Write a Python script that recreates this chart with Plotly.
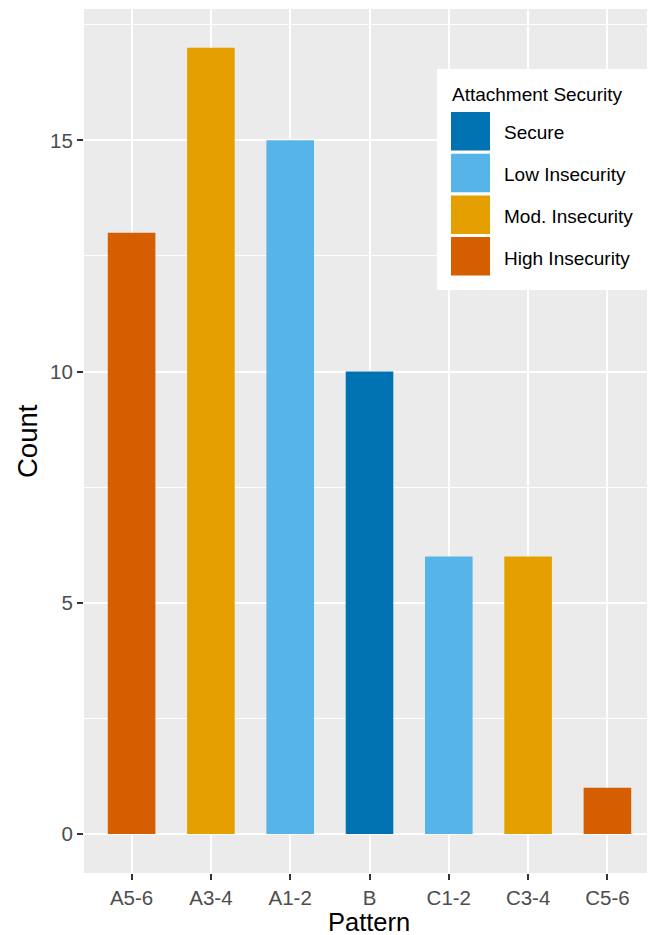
import plotly.graph_objects as go

# ---- data ----
patterns = ["A5-6", "A3-4", "A1-2", "B", "C1-2", "C3-4", "C5-6"]
counts = [13, 17, 15, 10, 6, 6, 1]
security = ["High Insecurity", "Mod. Insecurity", "Low Insecurity", "Secure",
            "Low Insecurity", "Mod. Insecurity", "High Insecurity"]
levels = ["Secure", "Low Insecurity", "Mod. Insecurity", "High Insecurity"]
level_colors = ["#0072B2", "#56B4E9", "#E69F00", "#D55E00"]
y_ticks = [0, 5, 10, 15]
y_minor = [2.5, 7.5, 12.5, 17.5]
legend_title = "Attachment Security"

FONT = "Liberation Sans, Arial, Helvetica, sans-serif"
OFF = 8  # default page body margin
W, H = 655 - OFF, 935 - OFF
ML, MR, MT, MB = 76, 0, 1, 62
PW, PH = W - ML - MR, H - MT - MB

def px(x):  # page pixel -> paper x
    return (x - OFF - ML) / PW

def py(y):  # page pixel -> paper y
    return (H - MB - (y - OFF)) / PH

fig = go.Figure()
for lev, col in zip(levels, level_colors):
    xs = [p for p, s in zip(patterns, security) if s == lev]
    ys = [c for c, s in zip(counts, security) if s == lev]
    fig.add_trace(go.Bar(x=xs, y=ys, name=lev, marker=dict(color=col, line=dict(width=0)),
                         width=0.6, showlegend=False))

# custom ggplot-style legend
shapes = [dict(type="rect", xref="paper", yref="paper", x0=px(437), x1=px(647),
               y0=py(290), y1=py(69), fillcolor="white", line=dict(width=0), layer="above")]
annotations = [dict(text=legend_title, xref="paper", yref="paper", x=px(450), y=py(94),
                    xanchor="left", yanchor="middle", showarrow=False,
                    font=dict(family=FONT, size=19, color="black"))]
key_top = 112
pitch = 41.7
for i, (lev, col) in enumerate(zip(levels, level_colors)):
    t = key_top + i * pitch
    shapes.append(dict(type="rect", xref="paper", yref="paper", x0=px(451), x1=px(490),
                       y0=py(t + 38.5), y1=py(t), fillcolor=col, line=dict(width=0), layer="above"))
    annotations.append(dict(text=lev, xref="paper", yref="paper", x=px(502), y=py(t + 21),
                            xanchor="left", yanchor="middle", showarrow=False,
                            font=dict(family=FONT, size=19, color="black")))

# axis titles
annotations.append(dict(text="Pattern", xref="paper", yref="paper", x=px(369), y=py(922),
                        xanchor="center", yanchor="middle", showarrow=False,
                        font=dict(family=FONT, size=25.5, color="black")))
annotations.append(dict(text="Count", xref="paper", yref="paper", x=px(27), y=py(441),
                        xanchor="center", yanchor="middle", showarrow=False, textangle=-90,
                        font=dict(family=FONT, size=27.5, color="black")))

fig.update_layout(
    width=W, height=H,
    margin=dict(l=ML, r=MR, t=MT, b=MB, pad=0),
    paper_bgcolor="white",
    plot_bgcolor="#EBEBEB",
    barmode="overlay",
    font=dict(family=FONT, color="#4D4D4D"),
    shapes=shapes,
    annotations=annotations,
    xaxis=dict(
        type="category", categoryorder="array", categoryarray=patterns,
        range=[-0.6, len(patterns) - 0.4],
        showgrid=True, gridcolor="white", gridwidth=2,
        ticks="outside", ticklen=6, tickwidth=2, tickcolor="#333333",
        tickfont=dict(family=FONT, size=20.5, color="#4D4D4D"),
        showline=False, zeroline=False,
    ),
    yaxis=dict(
        range=[-0.845, 17.84],
        tickvals=y_ticks, ticktext=[str(v) for v in y_ticks],
        showgrid=True, gridcolor="white", gridwidth=2,
        minor=dict(tickvals=y_minor, showgrid=True, gridcolor="white", gridwidth=1, ticks=""),
        ticks="outside", ticklen=6, tickwidth=2, tickcolor="#333333",
        tickfont=dict(family=FONT, size=20.5, color="#4D4D4D"),
        showline=False, zeroline=False,
    ),
)

fig.write_html("out.html")
